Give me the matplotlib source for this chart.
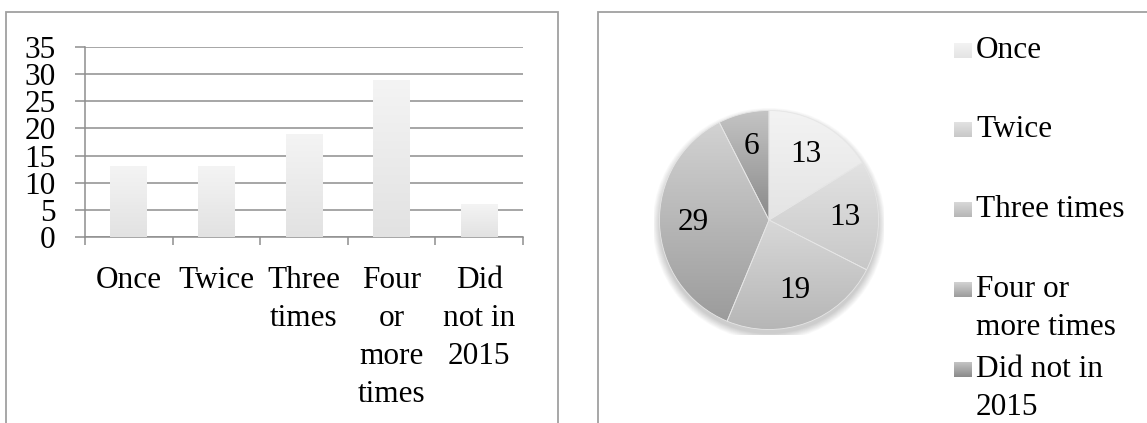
import numpy as np
import matplotlib
matplotlib.use("Agg")
import matplotlib.pyplot as plt
from matplotlib.colors import LinearSegmentedColormap
from matplotlib.patches import Rectangle, Circle

# data
bar_labels = ["Once", "Twice", "Three\ntimes", "Four\nor\nmore\ntimes", "Did\nnot in\n2015"]
pie_labels = ["Once", "Twice", "Three times", "Four or\nmore times", "Did not in\n2015"]
counts = [13, 13, 19, 29, 6]
y_ticks = [0, 5, 10, 15, 20, 25, 30, 35]

# gradient top/bottom colours per slice
pie_top = ["#f3f3f3", "#e2e2e2", "#d8d8d8", "#d2d2d2", "#c4c4c4"]
pie_bot = ["#e4e4e4", "#c8c8c8", "#b6b6b6", "#9c9c9c", "#8a8a8a"]

plt.rcParams['font.family'] = ['Liberation Serif', 'DejaVu Serif']
W, H = 1147, 423
fig = plt.figure(figsize=(W / 100, H / 100), dpi=100)
grid_c = '#8e8e8e'
fs = 22.5
lsp = 1.4


def grad_fill(ax, patch, top, bot, z):
    ext = patch.get_path().transformed(patch.get_patch_transform()).get_extents()
    cmap = LinearSegmentedColormap.from_list('g', [bot, top])
    g = np.linspace(0, 1, 100).reshape(-1, 1)
    im = ax.imshow(g, extent=[ext.x0, ext.x1, ext.y0, ext.y1], origin='lower',
                   cmap=cmap, aspect='auto', zorder=z, interpolation='bilinear')
    im.set_clip_path(patch)
    patch.set_facecolor('none')


# panel frames
fig.add_artist(Rectangle((6 / W, -0.1), 552 / W, (H - 12) / H + 0.1, transform=fig.transFigure,
                         fill=False, edgecolor='#a0a0a0', lw=1.3))
fig.add_artist(Rectangle((598 / W, -0.1), 0.6, (H - 12) / H + 0.1, transform=fig.transFigure,
                         fill=False, edgecolor='#a0a0a0', lw=1.3))

# ---- bar chart ----
ax = fig.add_axes([85 / W, 1 - 237 / H, 438 / W, 190 / H])
x = np.arange(len(counts))
bars = ax.bar(x, counts, width=0.42, color='#ececec', zorder=3, linewidth=0)
for b in bars:
    grad_fill(ax, b, '#f4f4f4', '#e2e2e2', 3)
ax.set_xlim(-0.5, len(counts) - 0.5)
ax.set_ylim(0, 35)
ax.set_yticks(y_ticks)
ax.set_yticklabels([str(v) for v in y_ticks], fontsize=fs)
ax.yaxis.grid(True, color=grid_c, lw=1.1, zorder=1)
ax.set_axisbelow(True)
ax.set_xticks(np.arange(-0.5, len(counts)), labels=[''] * (len(counts) + 1))
ax.set_xticks(x, labels=bar_labels, minor=True, fontsize=fs, linespacing=lsp, va='top')
ax.tick_params(axis='x', which='major', length=6, width=1.1, color=grid_c, direction='out')
ax.tick_params(axis='x', which='minor', length=0, pad=21)
ax.tick_params(axis='y', length=7.2, width=1.1, color=grid_c, pad=14)
for s in ['top', 'right']:
    ax.spines[s].set_visible(False)
for s in ['left', 'bottom']:
    ax.spines[s].set_color(grid_c)
    ax.spines[s].set_linewidth(1.1)

# ---- pie chart ----
pax = fig.add_axes([(769 - 115) / W, (H - 220 - 115) / H, 230 / W, 230 / H])
for i in range(10):
    pax.add_patch(Circle((0, -0.04), 1.0 + 0.007 * i, color='k', alpha=0.02, lw=0, zorder=0))
total = sum(counts)
wedges, _, autotexts = pax.pie(counts, startangle=90, counterclock=False, radius=1,
                               autopct=lambda p: '%d' % round(p * total / 100),
                               pctdistance=0.69,
                               wedgeprops=dict(linewidth=0.6, edgecolor='#e6e6e6'),
                               textprops=dict(fontsize=fs, color='black'))
for w, t, b in zip(wedges, pie_top, pie_bot):
    w.set_zorder(2)
    grad_fill(pax, w, t, b, 1)
for t in autotexts:
    t.set_zorder(5)
pax.set_xlim(-1.05, 1.05)
pax.set_ylim(-1.05, 1.05)
pax.set_aspect('equal')
pax.axis('off')

# ---- legend ----
leg_y = [50, 129, 209, 289, 369]
for lab, t, b, yc in zip(pie_labels, pie_top, pie_bot, leg_y):
    sq = fig.add_axes([954 / W, 1 - (yc + 8) / H, 17 / W, 15 / H])
    sq.imshow(np.linspace(0, 1, 50).reshape(-1, 1), origin='lower', aspect='auto',
              cmap=LinearSegmentedColormap.from_list('g', [b, t]), extent=[0, 1, 0, 1])
    sq.axis('off')
    fig.text(976 / W, 1 - (yc - 14) / H, lab, fontsize=fs, ha='left', va='top', linespacing=lsp)

fig.savefig('out.png', dpi=100)
